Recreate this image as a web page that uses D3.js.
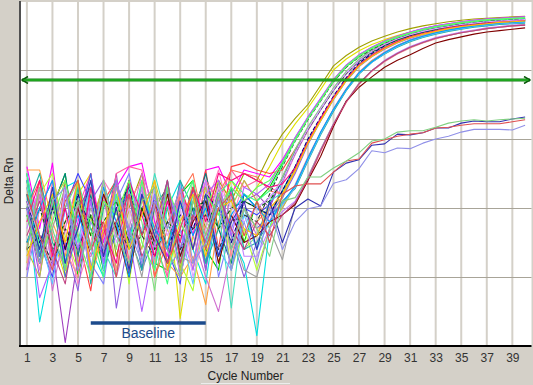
<!DOCTYPE html>
<html>
<head>
<meta charset="utf-8">
<script src="https://d3js.org/d3.v7.min.js"></script>
<style>
    body {
        margin: 0;
        background: #d4d0c8;
    }
    text {
        font-family: "Liberation Sans", Arial, sans-serif;
    }
    .tick-label {
        font-size: 12px;
        fill: #333333;
    }
    .axis-label {
        font-size: 12px;
        fill: #222222;
    }
</style>
</head>
<body>
<div id="container"></div>
<script>
    // cycles on the x axis
    const cycles = [1,2,3,4,5,6,7,8,9,10,11,12,13,14,15,16,17,18,19,20,
                    21,22,23,24,25,26,27,28,29,30,31,32,33,34,35,36,37,38,39,40];
    const tickCycles = [1,3,5,7,9,11,13,15,17,19,21,23,25,27,29,31,33,35,37,39];

    // log10(Delta Rn) gridlines, threshold and baseline window
    const gridLogRn = [-3, -2, -1, 0];
    const thresholdLogRn = -0.145;
    const baselineCycles = [6, 15];

    // log10(Delta Rn) per well, cycles 1..40
    const well01 = [-1.7,-2.6,-1.9,-2.9,-1.8,-2.4,-1.6,-2.7,-2.0,-1.5,-2.6,-2.0,-2.9,-1.7,-2.3,-1.6,-1.9,-1.5,
        -1.6,-1.22,-0.93,-0.70,-0.50,-0.22,0.06,0.21,0.33,0.42,0.49,0.55,0.60,0.64,0.67,0.70,0.72,0.74,0.75,0.76,0.77,0.78];
    const well02 = [-2.6,-1.6,-2.4,-3.0,-1.8,-1.5,-2.8,-2.2,-1.6,-2.9,-2.0,-1.7,-3.6,-2.4,-1.7,-2.1,-1.6,-1.9,
        -1.7,-1.4,-1.05,-0.78,-0.55,-0.28,0.0,0.16,0.28,0.37,0.44,0.50,0.55,0.59,0.62,0.65,0.67,0.69,0.70,0.71,0.72,0.73];
    const well03 = [-1.5,-2.7,-2.0,-1.5,-3.0,-2.1,-2.9,-1.6,-2.4,-1.7,-2.8,-2.9,-1.8,-1.6,-2.6,-2.9,-1.7,-2.5,
        -1.9,-1.7,-1.35,-1.0,-0.7,-0.43,-0.16,0.05,0.2,0.31,0.4,0.47,0.53,0.58,0.62,0.65,0.68,0.70,0.72,0.73,0.74,0.75];
    const well04 = [-1.4,-2.3,-1.35,-2.8,-2.2,-1.5,-2.5,-1.7,-1.4,-1.35,-2.2,-2.7,-1.6,-2.4,-1.45,-1.4,-1.8,-1.45,
        -1.5,-1.55,-1.3,-0.98,-0.68,-0.41,-0.14,0.07,0.22,0.33,0.42,0.49,0.55,0.60,0.64,0.67,0.70,0.72,0.74,0.75,0.76,0.77];
    const well05 = [-1.8,-3.65,-2.7,-1.7,-1.6,-2.6,-3.0,-1.8,-2.5,-1.6,-2.9,-2.0,-1.6,-2.6,-3.1,-1.8,-2.4,-2.8,
        -3.85,-2.3,-1.6,-1.18,-0.85,-0.56,-0.29,-0.05,0.13,0.26,0.36,0.44,0.50,0.55,0.59,0.62,0.65,0.67,0.69,0.70,0.71,0.72];
    const well06 = [-2.6,-1.7,-2.9,-1.6,-2.4,-3.2,-1.9,-1.6,-2.8,-1.8,-3.0,-2.3,-1.7,-2.2,-1.45,-2.6,-1.4,-1.35,
        -1.45,-1.5,-1.45,-1.15,-0.84,-0.55,-0.27,-0.03,0.15,0.28,0.38,0.46,0.52,0.57,0.61,0.64,0.67,0.69,0.71,0.72,0.73,0.74];
    const well07 = [-1.6,-2.5,-3.0,-2.0,-1.5,-1.9,-2.8,-2.4,-1.6,-2.9,-1.8,-2.6,-3.1,-1.7,-2.5,-1.8,-2.9,-2.0,
        -2.1,-1.95,-1.6,-1.22,-0.87,-0.57,-0.29,-0.04,0.14,0.27,0.37,0.45,0.51,0.56,0.60,0.63,0.66,0.68,0.70,0.71,0.72,0.73];
    const well08 = [-2.9,-1.8,-2.6,-3.95,-2.7,-1.7,-2.4,-1.5,-3.0,-2.0,-1.7,-2.8,-2.3,-1.8,-2.9,-1.6,-2.6,-1.9,
        -1.8,-2.0,-1.55,-1.18,-0.84,-0.55,-0.27,-0.03,0.15,0.28,0.38,0.46,0.52,0.57,0.61,0.64,0.67,0.69,0.71,0.72,0.73,0.74];
    const well09 = [-2.0,-2.9,-1.6,-2.3,-3.1,-2.5,-1.6,-1.9,-2.8,-2.3,-1.8,-3.0,-1.7,-2.6,-2.0,-1.45,-2.2,-1.6,
        -1.9,-2.2,-1.65,-1.22,-0.88,-0.58,-0.3,-0.06,0.12,0.25,0.35,0.43,0.49,0.54,0.58,0.61,0.64,0.66,0.68,0.69,0.70,0.71];
    const well10 = [-1.5,-2.4,-2.8,-2.0,-1.6,-2.9,-1.8,-2.6,-1.6,-2.2,-3.2,-1.8,-2.5,-1.6,-2.8,-2.0,-1.7,-2.6,
        -2.4,-1.9,-1.55,-1.15,-0.82,-0.54,-0.26,-0.02,0.16,0.29,0.39,0.47,0.53,0.58,0.62,0.65,0.68,0.70,0.72,0.73,0.74,0.75];
    const well11 = [-3.0,-2.0,-1.6,-2.6,-1.8,-2.8,-3.1,-1.9,-1.5,-2.4,-1.8,-2.9,-2.6,-1.9,-1.7,-3.0,-2.3,-1.8,
        -2.0,-1.85,-1.62,-1.2,-0.86,-0.57,-0.29,-0.05,0.13,0.26,0.36,0.44,0.50,0.55,0.59,0.62,0.65,0.67,0.69,0.70,0.71,0.72];
    const well12 = [-1.45,-1.45,-2.2,-2.7,-1.6,-3.0,-2.4,-1.8,-2.9,-1.6,-2.3,-2.8,-3.0,-2.7,-3.4,-2.2,-1.8,-2.4,
        -2.2,-2.0,-1.85,-1.45,-1.05,-0.72,-0.42,-0.15,0.06,0.2,0.31,0.4,0.47,0.52,0.56,0.6,0.63,0.65,0.67,0.69,0.70,0.71];
    const well13 = [-1.8,-2.8,-2.0,-1.5,-2.7,-1.8,-2.9,-2.3,-1.6,-2.8,-2.0,-1.7,-3.0,-2.1,-1.5,-2.3,-2.8,-1.8,
        -2.0,-2.1,-1.75,-1.4,-1.02,-0.7,-0.4,-0.13,0.08,0.22,0.33,0.42,0.49,0.54,0.58,0.62,0.65,0.67,0.69,0.71,0.72,0.73];
    const well14 = [-2.6,-1.6,-2.4,-2.9,-2.0,-1.5,-2.7,-1.5,-1.4,-1.45,-2.5,-3.0,-1.8,-2.6,-1.6,-1.9,-1.45,-1.7,
        -1.6,-1.7,-1.8,-1.48,-1.06,-0.72,-0.41,-0.14,0.07,0.21,0.32,0.41,0.48,0.53,0.57,0.61,0.64,0.66,0.68,0.70,0.71,0.72];
    const well15 = [-2.0,-3.0,-1.8,-2.5,-3.2,-1.9,-1.6,-3.45,-2.4,-1.7,-2.8,-1.6,-2.6,-2.0,-2.9,-1.8,-2.4,-3.0,
        -2.5,-2.1,-1.85,-1.5,-1.08,-0.74,-0.43,-0.16,0.05,0.19,0.3,0.39,0.46,0.51,0.55,0.59,0.62,0.64,0.66,0.68,0.69,0.70];
    const well16 = [-1.5,-2.5,-2.9,-1.8,-2.5,-1.6,-2.6,-3.0,-1.7,-2.4,-1.5,-2.2,-2.8,-1.8,-2.5,-2.0,-3.45,-2.0,
        -2.6,-1.9,-1.78,-1.42,-1.03,-0.7,-0.39,-0.12,0.09,0.23,0.34,0.43,0.50,0.55,0.59,0.63,0.66,0.68,0.70,0.72,0.73,0.74];
    const well17 = [-2.8,-1.8,-1.5,-2.4,-2.9,-1.7,-2.6,-2.0,-3.1,-1.8,-2.5,-1.6,-2.8,-3.2,-2.0,-1.6,-2.9,-2.3,
        -2.9,-2.3,-1.82,-1.46,-1.06,-0.73,-0.42,-0.15,0.06,0.2,0.31,0.4,0.47,0.52,0.56,0.6,0.63,0.65,0.67,0.69,0.70,0.71];
    const well18 = [-2.0,-1.6,-2.8,-2.2,-1.7,-2.9,-2.4,-1.6,-2.6,-1.8,-3.0,-2.5,-1.8,-1.5,-2.4,-1.8,-1.45,-1.5,
        -1.55,-1.75,-1.8,-1.44,-1.04,-0.71,-0.4,-0.13,0.08,0.22,0.33,0.42,0.48,0.53,0.57,0.61,0.64,0.66,0.68,0.70,0.71,0.72];
    const well19 = [-1.6,-2.7,-1.8,-3.0,-2.3,-1.5,-2.8,-2.0,-1.8,-2.9,-2.4,-1.6,-2.7,-2.0,-2.8,-1.7,-2.6,-2.0,
        -2.3,-2.1,-1.95,-1.7,-1.3,-0.92,-0.58,-0.29,-0.05,0.12,0.24,0.34,0.42,0.48,0.53,0.57,0.6,0.63,0.65,0.67,0.68,0.69];
    const well20 = [-2.9,-1.8,-3.2,-2.3,-1.6,-2.6,-1.8,-3.0,-2.3,-1.5,-2.0,-2.8,-1.7,-2.4,-3.0,-3.5,-2.6,-2.0,
        -2.4,-2.0,-2.0,-1.66,-1.26,-0.9,-0.56,-0.27,-0.03,0.14,0.26,0.36,0.44,0.5,0.55,0.59,0.62,0.65,0.67,0.69,0.70,0.71];
    const well21 = [-2.0,-1.5,-2.5,-2.8,-1.7,-3.1,-2.0,-1.6,-2.4,-2.9,-1.7,-2.6,-1.6,-2.0,-2.8,-2.3,-1.7,-2.6,
        -2.5,-2.2,-1.9,-1.72,-1.32,-0.94,-0.6,-0.3,-0.06,0.11,0.23,0.33,0.41,0.47,0.52,0.56,0.59,0.62,0.64,0.66,0.67,0.68];
    const well22 = [-2.6,-3.0,-1.9,-1.6,-2.8,-2.2,-1.7,-2.9,-2.0,-2.6,-1.6,-2.3,-2.9,-1.9,-1.7,-2.8,-2.0,-1.6,
        -1.9,-2.3,-2.0,-1.68,-1.28,-0.91,-0.57,-0.28,-0.04,0.13,0.25,0.35,0.43,0.49,0.54,0.58,0.61,0.64,0.66,0.68,0.69,0.70];
    const well23 = [-1.7,-2.4,-3.1,-2.0,-2.6,-1.6,-2.9,-1.8,-2.6,-2.0,-2.8,-1.7,-2.3,-3.1,-1.9,-2.6,-2.9,-2.1,
        -2.6,-2.2,-1.95,-1.7,-1.3,-0.92,-0.58,-0.29,-0.05,0.11,0.24,0.34,0.42,0.48,0.53,0.57,0.6,0.63,0.65,0.67,0.68,0.69];
    const well24 = [-2.3,-1.7,-2.9,-2.6,-1.9,-3.0,-1.6,-2.4,-2.8,-1.7,-2.6,-1.9,-3.0,-2.2,-1.6,-2.7,-1.8,-2.7,
        -2.7,-2.3,-2.05,-1.9,-1.55,-1.15,-0.78,-0.46,-0.2,-0.01,0.14,0.25,0.34,0.41,0.47,0.51,0.55,0.58,0.61,0.63,0.65,0.66];
    const well25 = [-2.8,-2.0,-1.6,-2.6,-3.0,-1.7,-2.3,-2.9,-1.9,-1.6,-2.8,-2.2,-1.8,-2.9,-2.1,-1.7,-2.7,-2.0,
        -2.3,-2.2,-2.1,-1.95,-1.6,-1.18,-0.8,-0.47,-0.21,-0.02,0.12,0.23,0.32,0.39,0.45,0.5,0.54,0.57,0.6,0.62,0.64,0.65];
    const well26 = [-1.9,-2.8,-2.3,-1.7,-2.9,-2.0,-2.6,-1.6,-2.3,-3.0,-1.9,-1.8,-2.7,-2.8,-1.9,-1.8,-2.3,-2.9,
        -3.0,-2.3,-2.75,-1.95,-1.55,-1.15,-0.78,-0.45,-0.19,-0.01,0.13,0.24,0.33,0.4,0.46,0.5,0.54,0.57,0.6,0.62,0.64,0.65];
    const well27 = [-2.1,-2.8,-1.8,-2.6,-2.0,-2.7,-1.8,-2.3,-3.0,-2.0,-2.5,-1.8,-2.7,-2.2,-1.9,-2.8,-2.1,-2.5,
        -2.4,-2.2,-2.1,-1.95,-1.6,-1.25,-0.82,-0.45,-0.25,-0.1,0.04,0.14,0.22,0.31,0.39,0.44,0.48,0.52,0.55,0.57,0.59,0.61];
    const well28 = [-1.9,-2.5,-2.0,-2.6,-1.8,-2.3,-2.7,-2.0,-1.7,-2.4,-1.9,-2.6,-2.1,-2.3,-1.8,-2.0,-2.5,-1.9,
        -2.0,-2.1,-1.75,-1.4,-1.0,-0.68,-0.38,-0.11,0.1,0.24,0.35,0.44,0.5,0.55,0.59,0.63,0.66,0.68,0.7,0.72,0.73,0.74];
    const well29 = [-2.5,-2.0,-2.6,-2.2,-1.9,-2.4,-2.2,-1.9,-2.5,-2.0,-2.6,-2.2,-2.4,-2.0,-1.9,-2.3,-2.0,-1.9,
        -2.0,-1.9,-1.6,-1.2,-0.86,-0.57,-0.29,-0.05,0.13,0.26,0.36,0.44,0.5,0.55,0.59,0.62,0.65,0.67,0.69,0.7,0.71,0.72];
    const well30 = [-2.6,-2.4,-2.8,-2.3,-2.6,-2.1,-2.6,-2.2,-2.6,-2.4,-2.7,-2.2,-2.6,-2.3,-2.1,-2.6,-2.2,-2.1,
        -2.2,-1.8,-1.4,-1.03,-0.72,-0.45,-0.17,0.04,0.19,0.3,0.39,0.46,0.52,0.57,0.61,0.64,0.67,0.69,0.71,0.72,0.73,0.74];
    const well31 = [-1.6,-2.6,-1.8,-2.9,-1.6,-2.3,-3.0,-1.8,-2.6,-1.6,-2.4,-3.1,-2.0,-1.6,-2.6,-1.8,-1.6,-1.8,
        -1.9,-1.75,-1.38,-1.02,-0.71,-0.44,-0.16,0.05,0.2,0.31,0.4,0.47,0.53,0.58,0.62,0.65,0.68,0.7,0.72,0.73,0.74,0.75];
    const well32 = [-2.0,-3.3,-2.8,-1.8,-2.6,-1.9,-2.8,-1.6,-2.4,-3.5,-2.5,-1.7,-2.3,-2.9,-1.8,-1.6,-2.4,-1.7,
        -1.8,-1.65,-1.32,-0.98,-0.68,-0.41,-0.14,0.07,0.22,0.33,0.42,0.49,0.55,0.6,0.64,0.67,0.7,0.72,0.74,0.75,0.76,0.77];
    const well33 = [-2.2,-1.6,-2.7,-2.0,-2.9,-1.7,-2.3,-2.8,-1.6,-2.1,-2.7,-1.9,-2.5,-1.7,-2.2,-1.5,-1.6,-1.5,
        -1.6,-1.7,-1.65,-1.42,-1.04,-0.7,-0.4,-0.13,0.07,0.21,0.32,0.41,0.48,0.53,0.57,0.61,0.64,0.66,0.68,0.70,0.71,0.72];
    const well34 = [-2.5,-2.0,-1.6,-2.8,-2.1,-2.6,-1.7,-2.2,-3.0,-1.8,-2.3,-2.6,-1.9,-2.4,-2.0,-2.7,-2.1,-1.8,
        -2.0,-2.2,-1.92,-1.68,-1.28,-0.9,-0.57,-0.28,-0.04,0.12,0.25,0.35,0.43,0.49,0.54,0.58,0.61,0.64,0.66,0.68,0.69,0.70];
    const well35 = [-1.9,-2.4,-2.9,-1.7,-2.2,-2.7,-1.6,-2.5,-2.0,-2.8,-1.7,-2.4,-2.0,-3.0,-2.3,-1.7,-2.0,-2.2,
        -2.0,-1.85,-1.6,-1.2,-0.85,-0.56,-0.28,-0.04,0.14,0.27,0.37,0.45,0.51,0.56,0.60,0.63,0.66,0.68,0.70,0.71,0.72,0.73];
    const well36 = [-2.7,-2.2,-1.8,-2.5,-1.6,-2.9,-2.3,-1.7,-2.6,-2.1,-1.6,-2.9,-2.2,-1.8,-2.7,-2.0,-1.9,-2.3,
        -2.4,-2.0,-1.8,-1.46,-1.06,-0.73,-0.42,-0.15,0.06,0.2,0.31,0.4,0.47,0.52,0.56,0.6,0.63,0.65,0.67,0.69,0.70,0.71];
    const well37 = [-2.1,-2.8,-2.2,-1.6,-2.4,-3.0,-1.9,-2.1,-1.6,-2.5,-2.9,-1.7,-2.2,-2.6,-1.8,-2.1,-1.7,-1.9,
        -1.7,-1.6,-1.34,-1.0,-0.7,-0.43,-0.15,0.06,0.21,0.32,0.41,0.48,0.54,0.59,0.63,0.66,0.69,0.71,0.73,0.74,0.75,0.76];
    const well38 = [-2.4,-1.9,-2.6,-3.1,-2.0,-1.7,-2.6,-2.2,-1.8,-2.7,-2.3,-1.6,-2.8,-2.1,-2.5,-1.8,-2.3,-2.6,
        -2.2,-2.4,-2.1,-1.92,-1.58,-1.17,-0.79,-0.46,-0.2,-0.01,0.13,0.24,0.33,0.4,0.46,0.5,0.54,0.57,0.6,0.62,0.64,0.65];
    // late wells
    const well39 = [-2.0,-2.6,-1.7,-2.8,-2.3,-1.6,-2.7,-2.0,-2.9,-1.8,-2.4,-2.8,-1.9,-2.6,-1.8,-2.7,-2.2,-1.9,
        -2.6,-1.9,-2.5,-2.0,-1.87,-1.97,-1.48,-1.35,-1.30,-1.09,-1.07,-0.93,-0.94,-0.91,-0.84,-0.84,-0.77,-0.74,-0.75,-0.75,-0.71,-0.68];
    const well40 = [-1.8,-2.4,-2.9,-1.9,-1.6,-2.6,-2.2,-3.0,-1.8,-2.4,-1.9,-2.8,-2.3,-1.7,-2.6,-2.0,-1.8,-2.4,
        -1.9,-2.5,-1.8,-1.68,-1.65,-1.65,-1.48,-1.32,-1.29,-1.06,-1.01,-0.96,-0.93,-0.91,-0.84,-0.83,-0.80,-0.78,-0.78,-0.78,-0.75,-0.72];
    const well41 = [-2.6,-1.7,-2.3,-2.9,-1.9,-2.6,-1.6,-2.4,-2.8,-1.9,-1.7,-2.6,-3.0,-1.9,-2.4,-1.8,-2.6,-2.0,
        -2.3,-2.7,-1.9,-1.85,-1.55,-1.55,-1.42,-1.32,-1.20,-1.03,-1.0,-0.90,-0.88,-0.88,-0.83,-0.77,-0.74,-0.72,-0.74,-0.72,-0.71,-0.70];
    const well42 = [-2.0,-2.8,-1.9,-1.7,-2.9,-2.2,-2.6,-1.7,-2.3,-2.8,-1.9,-2.3,-1.7,-2.8,-2.5,-1.9,-2.9,-2.2,
        -2.8,-2.0,-2.6,-2.2,-2.01,-1.97,-1.64,-1.59,-1.43,-1.17,-1.20,-1.13,-1.14,-1.06,-1.0,-0.96,-0.90,-0.86,-0.86,-0.86,-0.87,-0.80];

    const wells = [well01, well02, well03, well04, well05, well06, well07, well08, well09, well10,
                   well11, well12, well13, well14, well15, well16, well17, well18, well19, well20,
                   well21, well22, well23, well24, well25, well26, well27, well28, well29, well30,
                   well31, well32, well33, well34, well35, well36, well37, well38, well39, well40,
                   well41, well42];
    const wellColors = ["#a0a000", "#e0e000", "#00d000", "#ff00ff", "#00e0e0", "#ff4040", "#4040ff", "#a040c0",
                        "#ff80c0", "#80e080", "#8080ff", "#ffa040", "#008080", "#ff60a0", "#9060e0", "#40e0c0",
                        "#b0ff30", "#ff7050", "#4070e0", "#d070d0", "#20b0a0", "#c0c040", "#60c0ff", "#c080ff",
                        "#ff9090", "#a0a0a0", "#800000", "#000080", "#006000", "#303030", "#40ff80", "#b060ff",
                        "#ff0080", "#00a0ff", "#e0a0ff", "#ffc000", "#60ff60", "#c04080",
                        "#3030b0", "#e05050", "#80d080", "#9090e8"];
    const dashedWells = [27, 28, 29];

    // dimensions of the plot area
    const W = 533, H = 385;
    const plot = {left: 20.5, right: 531.5, top: 1, bottom: 346};

    const svg = d3.select("#container")
        .append("svg")
        .attr("width", W)
        .attr("height", H)
        .style("display", "block");

    svg.append("rect")
        .attr("width", W).attr("height", H)
        .attr("fill", "#d4d0c8");

    // scales
    const x = d3.scaleLinear().domain([0.5, 40.5]).range([plot.left, plot.right]);
    const y = d3.scaleLog().domain([1e-4, 10]).range([plot.bottom, plot.top]);
    const yLog = v => y(Math.pow(10, v));

    // plot background
    svg.append("rect")
        .attr("x", plot.left).attr("y", plot.top + 1)
        .attr("width", plot.right - plot.left).attr("height", plot.bottom - plot.top - 1)
        .attr("fill", "#ffffff");

    svg.append("clipPath").attr("id", "clip")
        .append("rect")
        .attr("x", plot.left + 1).attr("y", plot.top + 1)
        .attr("width", plot.right - plot.left - 1).attr("height", plot.bottom - plot.top - 1);

    // vertical grid at odd cycles
    svg.append("g")
        .selectAll("line")
        .data(tickCycles)
        .join("line")
        .attr("x1", d => x(d)).attr("x2", d => x(d))
        .attr("y1", plot.top + 1).attr("y2", plot.bottom)
        .attr("stroke", "#d4d0c8")
        .attr("stroke-width", 2);

    // horizontal grid at decades
    svg.append("g")
        .selectAll("line")
        .data(gridLogRn)
        .join("line")
        .attr("x1", plot.left).attr("x2", plot.right)
        .attr("y1", d => Math.round(yLog(d)) + 0.5).attr("y2", d => Math.round(yLog(d)) + 0.5)
        .attr("stroke", "#a8a498")
        .attr("stroke-width", 1);

    // amplification curves
    const line = d3.line()
        .x((d, i) => x(cycles[i]))
        .y(d => yLog(d));

    svg.append("g")
        .attr("clip-path", "url(#clip)")
        .selectAll("path")
        .data(wells)
        .join("path")
        .attr("d", line)
        .attr("fill", "none")
        .attr("stroke", (d, i) => wellColors[i])
        .attr("stroke-width", 1.1)
        .attr("stroke-dasharray", (d, i) => dashedWells.includes(i) ? "4,2" : null)
        .attr("stroke-linejoin", "round");

    // threshold line with arrows
    const defs = svg.append("defs");
    defs.append("marker")
        .attr("id", "arrowR")
        .attr("viewBox", "0 0 8 8")
        .attr("refX", 7).attr("refY", 4)
        .attr("markerWidth", 8).attr("markerHeight", 8)
        .attr("markerUnits", "userSpaceOnUse")
        .attr("orient", "auto")
        .append("path")
        .attr("d", "M1,0.5 L7,4 L1,7.5")
        .attr("fill", "none")
        .attr("stroke", "#0a5a0a")
        .attr("stroke-width", 1.6);
    defs.append("marker")
        .attr("id", "arrowL")
        .attr("viewBox", "0 0 8 8")
        .attr("refX", 1).attr("refY", 4)
        .attr("markerWidth", 8).attr("markerHeight", 8)
        .attr("markerUnits", "userSpaceOnUse")
        .attr("orient", "auto")
        .append("path")
        .attr("d", "M7,0.5 L1,4 L7,7.5")
        .attr("fill", "none")
        .attr("stroke", "#0a5a0a")
        .attr("stroke-width", 1.6);

    const ty = yLog(thresholdLogRn);
    svg.append("line")
        .attr("x1", plot.left + 1.5).attr("x2", plot.right - 1.5)
        .attr("y1", ty).attr("y2", ty)
        .attr("stroke", "#117a11")
        .attr("stroke-width", 3)
        .attr("marker-start", "url(#arrowL)")
        .attr("marker-end", "url(#arrowR)");
    svg.append("line")
        .attr("x1", plot.left + 3).attr("x2", plot.right - 3)
        .attr("y1", ty).attr("y2", ty)
        .attr("stroke", "#2ed02e")
        .attr("stroke-width", 1);

    // baseline window
    svg.append("line")
        .attr("x1", x(baselineCycles[0])).attr("x2", x(baselineCycles[1]))
        .attr("y1", 323).attr("y2", 323)
        .attr("stroke", "#1c4b8c")
        .attr("stroke-width", 3.5);
    svg.append("text")
        .attr("x", (x(baselineCycles[0]) + x(baselineCycles[1])) / 2)
        .attr("y", 338)
        .attr("text-anchor", "middle")
        .style("font-size", "14px")
        .attr("fill", "#1c4b8c")
        .text("Baseline");

    // axis frame
    svg.append("line")
        .attr("x1", plot.left - 0.5).attr("x2", plot.left - 0.5)
        .attr("y1", plot.top).attr("y2", plot.bottom + 1)
        .attr("stroke", "#505050")
        .attr("stroke-width", 2);
    svg.append("line")
        .attr("x1", plot.left - 1.5).attr("x2", plot.right)
        .attr("y1", plot.bottom).attr("y2", plot.bottom)
        .attr("stroke", "#000000")
        .attr("stroke-width", 2);

    // x tick labels
    svg.append("g")
        .attr("transform", "translate(0," + plot.bottom + ")")
        .call(d3.axisBottom(x).tickValues(tickCycles).tickSize(0).tickPadding(7))
        .call(g => g.select(".domain").remove())
        .selectAll("text")
        .attr("class", "tick-label")
        .attr("fill", "#333333")
        .style("font-size", "12px")
        .style("font-family", "'Liberation Sans', Arial, sans-serif");

    // axis titles
    svg.append("text")
        .attr("class", "axis-label")
        .attr("x", 245.5).attr("y", 380)
        .attr("text-anchor", "middle")
        .text("Cycle Number");
    svg.append("line")
        .attr("x1", 201).attr("x2", 290)
        .attr("y1", 383.5).attr("y2", 383.5)
        .attr("stroke", "#ececec")
        .attr("stroke-width", 1);

    svg.append("text")
        .attr("class", "axis-label")
        .attr("transform", "translate(13,181) rotate(-90)")
        .attr("text-anchor", "middle")
        .text("Delta Rn");
</script>
</body>
</html>
